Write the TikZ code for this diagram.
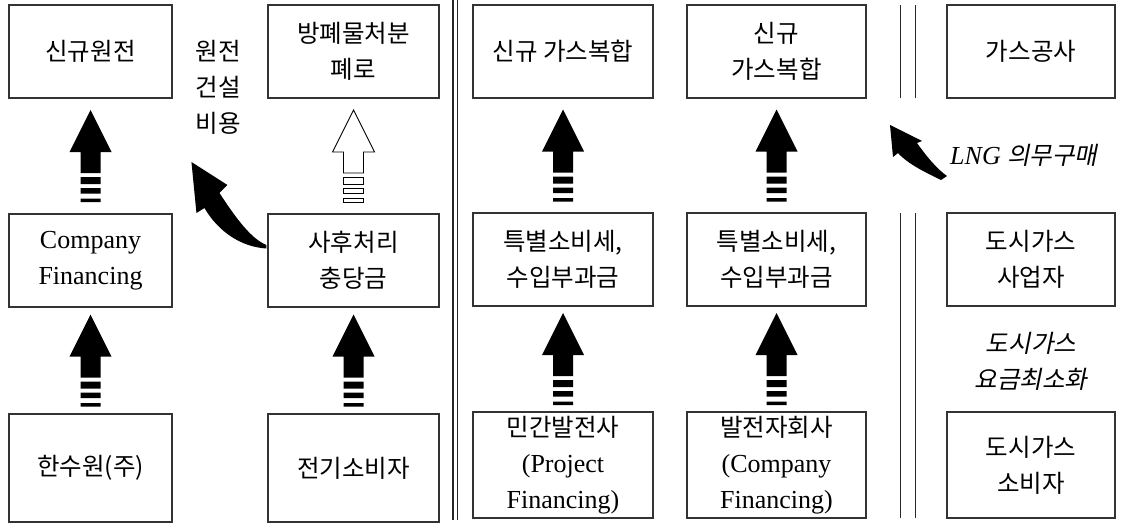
\documentclass[tikz,border=0pt]{standalone}
\usepackage{fontspec}
\setmainfont{Liberation Serif}
\newfontfamily\kr{Noto Sans CJK KR}
\newfontfamily\krit[FakeSlant=0.2]{Noto Sans CJK KR}
\usetikzlibrary{calc}
\newcommand\K{\kr\fontsize{24.5}{36}\selectfont}
\newcommand\KI{\krit\fontsize{24.5}{36}\selectfont}
\newcommand\Lt{\rmfamily\fontsize{26}{36}\selectfont}
\tikzset{
  box/.style={draw=black!80, line width=1.1pt, rectangle, inner sep=0pt, align=center,
    font=\fontsize{24.5}{36}\selectfont},
  lbl/.style={inner sep=0pt, align=center, font=\fontsize{24.5}{36}\selectfont},
  solidarr/.style={fill=black},
  hollowarr/.style={draw=black, fill=white, line width=0.9pt},
  pics/striparrow/.style={code={
    \path[#1] (0,-46) -- (21,-4) -- (10,-4) -- (10,17) -- (-10,17) -- (-10,-4) -- (-21,-4) -- cycle;
    \path[#1] (-10,21) rectangle (10,28) (-10,32) rectangle (10,37.5) (-10,42.5) rectangle (10,46);
  }},
  sep/.style={line width=1.2pt, black!85},
}
\begin{document}
\begin{tikzpicture}[x=1pt,y=-1pt]
\useasboundingbox (0,0) rectangle (1123,525);
% column 1
\node[box, minimum width=163pt, minimum height=93pt] (a1) at (90.5,51.5) {\K 신규원전};
\node[box, minimum width=163pt, minimum height=93pt] (a2) at (90.5,260.5) {\Lt Company\\\Lt Financing};
\node[box, minimum width=163pt, minimum height=108pt] (a3) at (90.5,468) {\K 한수원(주)};
% column 2
\node[box, minimum width=171pt, minimum height=93pt] (b1) at (353.5,51.5) {\K 방폐물처분\\\K 폐로};
\node[box, minimum width=171pt, minimum height=93pt] (b2) at (353.5,260.5) {\K 사후처리\\\K 충당금};
\node[box, minimum width=171pt, minimum height=108pt] (b3) at (353.5,468) {\K 전기소비자};
% column 3
\node[box, minimum width=180pt, minimum height=93pt] (c1) at (563,51.5) {\K 신규 가스복합};
\node[box, minimum width=180pt, minimum height=93pt] (c2) at (563,259.5) {\K 특별소비세,\\\K 수입부과금};
\node[box, minimum width=180pt, minimum height=106pt] (c3) at (563,465) {\K 민간발전사\\\Lt (Project\\\Lt Financing)};
% column 4
\node[box, minimum width=179pt, minimum height=93pt] (d1) at (776.5,51.5) {\K 신규\\\K 가스복합};
\node[box, minimum width=179pt, minimum height=93pt] (d2) at (776.5,259.5) {\K 특별소비세,\\\K 수입부과금};
\node[box, minimum width=179pt, minimum height=106pt] (d3) at (776.5,465) {\K 발전자회사\\\Lt (Company\\\Lt Financing)};
% column 5
\node[box, minimum width=168pt, minimum height=93pt] (e1) at (1031,51.5) {\K 가스공사};
\node[box, minimum width=168pt, minimum height=93pt] (e2) at (1031,259.5) {\K 도시가스\\\K 사업자};
\node[box, minimum width=168pt, minimum height=106pt] (e3) at (1031,465) {\K 도시가스\\\K 소비자};
% labels
\node[lbl] (cost) at (218,87) {\K 원전\\\K 건설\\\K 비용};
\node[lbl, anchor=west] (lng) at (950,155) {\Lt\itshape LNG \KI 의무구매};
\node[lbl] (min) at (1031,361) {\KI 도시가스\\\KI 요금최소화};
% separators
\draw[sep] (453,0) -- (453,520);
\draw[sep] (457.5,0) -- (457.5,520);
\draw[sep, line width=1pt] (900,5) -- (900,98) (915,5) -- (915,98);
\draw[sep, line width=1pt] (900,213) -- (900,518) (915,213) -- (915,518);
% block arrows
\pic at ($(a1.south)!0.5!(a2.north)$) {striparrow=solidarr};
\pic at ($(a2.south)!0.5!(a3.north)$) {striparrow=solidarr};
\pic at ($(b1.south)!0.5!(b2.north)$) {striparrow=hollowarr};
\pic at ($(b2.south)!0.5!(b3.north)$) {striparrow=solidarr};
\pic at ($(c1.south)!0.5!(c2.north)$) {striparrow=solidarr};
\pic at ($(c2.south)!0.5!(c3.north)$) {striparrow=solidarr};
\pic at ($(d1.south)!0.5!(d2.north)$) {striparrow=solidarr};
\pic at ($(d2.south)!0.5!(d3.north)$) {striparrow=solidarr};
% curved arrow from 사후처리 충당금
\coordinate (t1) at ($(b2.west)+(-1,-13.5)$);
\fill[shift={(t1)}] (-75,-85) -- (-39,-62) -- (-47,-54) .. controls (-30,-28) and (-15,-8) .. (0,-2)
  -- (0,1.5) .. controls (-25,0) and (-48,-15) .. (-62,-39) -- (-70,-34) -- cycle;
% LNG arrow
\coordinate (t2) at ($(lng.west)+(-3,22)$);
\fill[shift={(t2)}] (-57,-52) -- (-25,-36) -- (-30,-34) .. controls (-20,-20) and (-10,-8) .. (0,-1)
  -- (-6,3) .. controls (-20,-4) and (-38,-12) .. (-49,-24) -- (-54,-20) -- cycle;
\end{tikzpicture}
\end{document}
